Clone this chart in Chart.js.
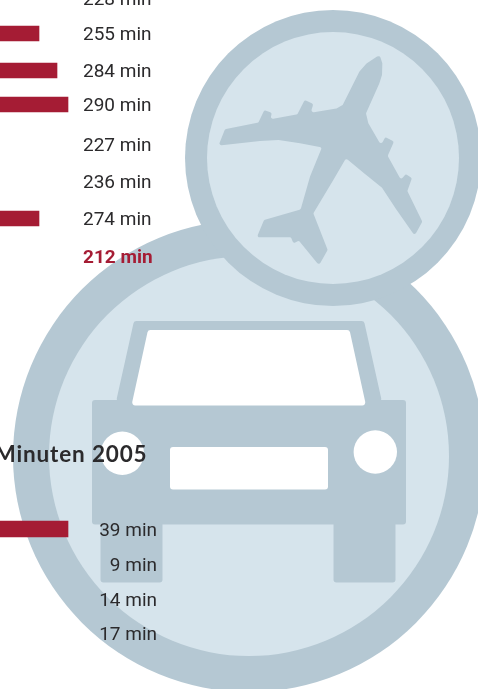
<!DOCTYPE html>
<html>
<head>
<meta charset="utf-8">
<style>html,body{margin:0;padding:0;background:#fff}canvas{display:block}</style>
<script src="https://cdn.jsdelivr.net/npm/chart.js@4"></script>
</head>
<body>
<canvas id="c" width="478" height="689"></canvas>
<script>
// Data
const topLabels = ['228 min','255 min','284 min','290 min','227 min','236 min','274 min','212 min'];
const topBars = [null,39,57,68,null,null,39,null];
const bottomLabels = ['39 min','9 min','14 min','17 min'];
const bottomBars = [68,null,null,null];
const title = 'Minuten 2005';

// Layout (row centres on the page)
const topRows = [-2,33.5,70.5,104.5,144,181,218.5,256];
const bottomRows = [529,564,599,633];

const RING='#b5c8d3', FILL='#d6e4ec', RED='#a51c34', INK='#2b2a2c';
const plane=[540,78,547,100,546,135,538,160,498,250,505,280,543,345,556,321,582,335,563,378,603,450,617,432,636,444,622,483,667,575,644,617,590,540,545,472,495,432,438,385,400,450,340,550,383,660,357,706,297,632,280,640,273,622,176,622,172,618,192,570,302,538,330,440,366,352,300,340,235,330,180,333,60,346,58,340,75,298,175,278,193,240,216,249,210,268,292,253,314,210,340,222,332,248,410,235,428,225,478,125,500,100,530,80];

function rr(c,x,y,w,h,r){c.beginPath();c.roundRect(x,y,w,h,r);c.fill();}
function poly(c,p,r){
  const n=p.length/2;c.beginPath();
  c.moveTo((p[0]+p[2*n-2])/2,(p[1]+p[2*n-1])/2);
  for(let i=0;i<n;i++){const j=(i+1)%n;c.arcTo(p[2*i],p[2*i+1],p[2*j],p[2*j+1],r);}
  c.closePath();c.fill();
}
function disc(c,x,y,r){c.beginPath();c.arc(x,y,r,0,Math.PI*2);c.fill();}

const backdrop={id:'backdrop',beforeDatasetsDraw(ch){
  const c=ch.ctx;c.save();
  c.fillStyle=RING;disc(c,249,456,236);
  c.fillStyle=FILL;disc(c,249,456,200);
  c.fillStyle=RING;disc(c,333,158,148);
  c.fillStyle=FILL;disc(c,333,158,126);
  // car
  c.fillStyle=RING;
  poly(c,[134,321,364,321,382,402,116,402],3);
  rr(c,92,400,314,124.5,3);
  rr(c,100.5,520,62,62.5,3);
  rr(c,333.5,520,62,62.5,3);
  c.fillStyle='#fff';
  poly(c,[148,330,349.5,330,366,405.5,131.5,405.5],3);
  rr(c,170,447,158,42.5,3);
  disc(c,122.3,453.3,21.7);
  disc(c,375.3,452,21.7);
  // plane
  c.save();c.translate(200,30);c.scale(1/3,1/3);
  c.fillStyle=RING;poly(c,plane,6);
  c.restore();
  c.restore();
}};

const labels={id:'labels',afterDatasetsDraw(ch){
  const c=ch.ctx,y=ch.scales.y;c.save();
  c.textBaseline='middle';
  c.fontKerning='normal';
  c.textAlign='left';
  topLabels.forEach((t,i)=>{
    const last=i===topLabels.length-1;
    c.fillStyle=last?RED:INK;
    c.font=(last?'700':'400')+' 19px Roboto, sans-serif';
    c.fillText(t,83,y.getPixelForValue(topRows[i])+2);
  });
  c.fillStyle=INK;c.font='400 19px Roboto, sans-serif';c.textAlign='right';
  bottomLabels.forEach((t,i)=>c.fillText(t,157,y.getPixelForValue(bottomRows[i])+2));
  c.font='700 22.5px Lato, sans-serif';c.fillStyle=INK;
  c.letterSpacing='0.85px';
  c.fillText(title,147.5,y.getPixelForValue(454.5));
  c.restore();
}};

new Chart(document.getElementById('c'),{
  type:'bar',
  data:{datasets:[
    {data:topBars.map((v,i)=>({x:v,y:topRows[i]})),backgroundColor:RED,barThickness:15,borderWidth:0},
    {data:bottomBars.map((v,i)=>({x:v,y:bottomRows[i]})),backgroundColor:RED,barThickness:16,borderWidth:0}
  ]},
  options:{
    indexAxis:'y',responsive:false,animation:false,
    layout:{padding:0},
    plugins:{legend:{display:false},tooltip:{enabled:false},title:{display:false}},
    datasets:{bar:{grouped:false}},
    scales:{
      x:{type:'linear',min:0,max:478,display:false,offset:false},
      y:{type:'linear',min:0,max:689,reverse:true,display:false,offset:false}
    }
  },
  plugins:[backdrop,labels]
});
</script>
</body>
</html>
